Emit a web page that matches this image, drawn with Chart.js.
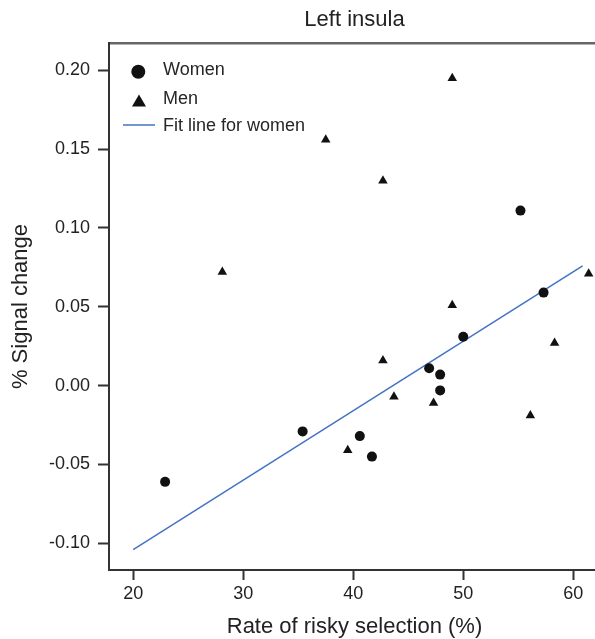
<!DOCTYPE html>
<html>
<head>
<meta charset="utf-8">
<title>Left insula</title>
<script src="https://cdn.jsdelivr.net/npm/chart.js@4.4.1/dist/chart.umd.min.js"></script>
<style>
  html, body { margin: 0; padding: 0; background: #fff; overflow: hidden; }
  #wrap { width: 600px; height: 639px; }
</style>
</head>
<body>
<div id="wrap"><canvas id="insulaChart" width="600" height="639"></canvas></div>
<script>
// --- data ---
const womenX = [22.9, 35.4, 40.6, 41.7, 46.9, 47.9, 47.9, 50.0, 55.2, 57.3];
const womenY = [-0.061, -0.029, -0.032, -0.045, 0.011, 0.007, -0.003, 0.031, 0.111, 0.059];

const menX = [28.1, 37.5, 39.5, 42.7, 42.7, 43.7, 47.3, 49.0, 49.0, 56.1, 58.3, 61.4];
const menY = [0.072, 0.156, -0.041, 0.130, 0.016, -0.007, -0.011, 0.195, 0.051, -0.019, 0.027, 0.071];

// regression line for women, end points
const fitX = [20, 60.85];
const fitY = [-0.104, 0.076];

const xTicks = [20, 30, 40, 50, 60];
const yTicks = [-0.10, -0.05, 0.00, 0.05, 0.10, 0.15, 0.20];

const FONT = '"Liberation Sans", Arial, sans-serif';
const TEXT = "#222";
const AXIS = "#333";
const FIT_BLUE = "#4472c4";

const toPoints = (xs, ys) => xs.map((x, i) => ({ x, y: ys[i] }));

// legend drawn inside the plot, top-left corner
const insideLegend = {
  id: "insideLegend",
  afterDatasetsDraw(chart) {
    const { ctx, chartArea } = chart;
    const ds = chart.data.datasets;
    const l = chartArea.left, t = chartArea.top;
    ctx.save();

    // circle
    ctx.fillStyle = "#111";
    ctx.beginPath();
    ctx.arc(l + 29.3, t + 28.8, 7, 0, Math.PI * 2);
    ctx.fill();

    // triangle
    ctx.beginPath();
    ctx.moveTo(l + 30, t + 51.5);
    ctx.lineTo(l + 37, t + 63.5);
    ctx.lineTo(l + 23, t + 63.5);
    ctx.closePath();
    ctx.fill();

    // line
    ctx.strokeStyle = FIT_BLUE;
    ctx.lineWidth = 1.5;
    ctx.beginPath();
    ctx.moveTo(l + 14, t + 82);
    ctx.lineTo(l + 46, t + 82);
    ctx.stroke();

    ctx.font = "18px " + FONT;
    ctx.fillStyle = "#262626";
    ctx.textBaseline = "middle";
    ctx.textAlign = "left";
    ctx.fillText(ds[0].label, l + 54, t + 27.5);
    ctx.fillText(ds[1].label, l + 54, t + 56.5);
    ctx.fillText(ds[2].label, l + 54, t + 83.3);
    ctx.restore();
  }
};

const tickFont = { family: FONT, size: 18 };
const titleFont = { family: FONT, size: 22 };

new Chart(document.getElementById("insulaChart"), {
  type: "scatter",
  data: {
    datasets: [
      {
        label: "Women",
        data: toPoints(womenX, womenY),
        pointStyle: "circle",
        pointRadius: 5,
        pointBorderWidth: 0,
        backgroundColor: "#111"
      },
      {
        label: "Men",
        data: toPoints(menX, menY),
        pointStyle: "triangle",
        pointRadius: 5.5,
        pointBorderWidth: 0,
        backgroundColor: "#111"
      },
      {
        label: "Fit line for women",
        data: toPoints(fitX, fitY),
        showLine: true,
        pointRadius: 0,
        borderColor: FIT_BLUE,
        borderWidth: 1.5
      }
    ]
  },
  options: {
    responsive: false,
    animation: false,
    layout: { padding: 0, autoPadding: false },
    plugins: {
      legend: { display: false },
      tooltip: { enabled: false }
    },
    scales: {
      x: {
        type: "linear",
        position: "bottom",
        min: 17.8,
        max: 62.43,
        afterBuildTicks: s => { s.ticks = xTicks.map(v => ({ value: v })); },
        afterFit: s => { s.height = 69; },
        ticks: { font: tickFont, color: TEXT, padding: 3, maxRotation: 0 },
        grid: { drawOnChartArea: false, tickLength: 10, tickWidth: 2, tickColor: AXIS },
        border: { color: AXIS, width: 2 },
        title: {
          display: true,
          text: "Rate of risky selection (%)",
          font: { family: FONT, size: 22, lineHeight: 1 },
          color: TEXT,
          padding: { top: 0, bottom: 1 }
        }
      },
      top: {
        type: "linear",
        position: "top",
        min: 17.8,
        max: 62.43,
        afterFit: s => { s.height = 43; },
        ticks: { display: false },
        grid: { display: false },
        border: { color: "#666", width: 2.5 },
        title: {
          display: true,
          text: "Left insula",
          font: titleFont,
          color: TEXT,
          padding: { top: 7, bottom: 0 }
        }
      },
      y: {
        type: "linear",
        min: -0.1169,
        max: 0.2173,
        afterBuildTicks: s => { s.ticks = yTicks.map(v => ({ value: v })); },
        afterFit: s => { s.width = 109; },
        ticks: { font: tickFont, color: TEXT, padding: 8, callback: v => v.toFixed(2) },
        grid: { drawOnChartArea: false, tickLength: 11, tickWidth: 2, tickColor: AXIS },
        border: { color: AXIS, width: 2 },
        title: {
          display: true,
          text: "% Signal change",
          font: titleFont,
          color: TEXT,
          padding: { top: 8, bottom: 0 }
        }
      }
    }
  },
  plugins: [insideLegend]
});
</script>
</body>
</html>
